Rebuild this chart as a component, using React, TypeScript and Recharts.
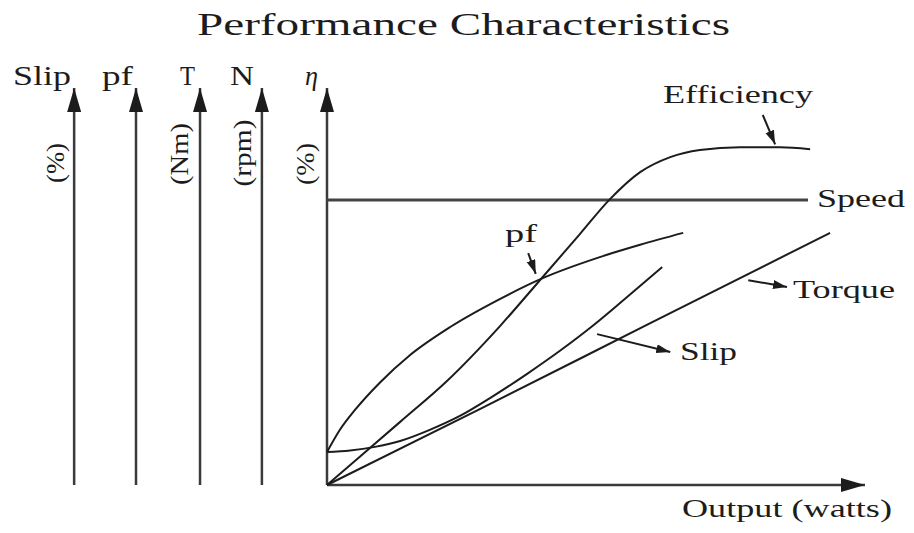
import React from 'react';
import { LineChart, Line, XAxis, YAxis, ReferenceLine } from 'recharts';

// output (% of full scale) vs curve value (% of axis height)
const efficiency = [
  [0, 0], [6.1, 7.1], [13.6, 15.9], [22.3, 26.2], [32.2, 40.1], [40.1, 52.4], [47.0, 63.2],
  [52.6, 72.0], [58.2, 78.8], [63.8, 82.6], [69.3, 84.4], [76.8, 85.1], [84.2, 85.1], [89.8, 84.6],
];
const speed = [[0, 71.8], [89.4, 71.8]];
const powerFactor = [
  [0, 8.3], [2.4, 13.9], [5.2, 18.9], [9.9, 25.9], [15.4, 32.7], [22.9, 39.8], [32.2, 46.9],
  [40.1, 52.1], [50.7, 57.4], [58.2, 60.5], [66.2, 63.5],
];
const slip = [
  [0, 8.3], [4.3, 8.7], [8.9, 9.6], [13.6, 11.1], [19.1, 13.9], [24.7, 17.4], [30.3, 21.9],
  [37.2, 28.0], [43.3, 33.8], [49.4, 40.1], [55.4, 46.9], [62.3, 54.9],
];
const torque = [[0, 0], [28.4, 19.1], [60, 40.7], [93.5, 63.5]];

// extra vertical axes on the left, in output units (negative = left of origin)
const sideAxisNames = ['Slip', 'pf', 'T', 'N'];
const sideAxisUnits = ['(%)', '', '(Nm)', '(rpm)'];
const sideAxisAt = [-47.0, -35.5, -23.6, -12.1];

// pointer arrows: [x1, y1, x2, y2] in data units
const pointers = [
  [81.0, 93.2, 83.3, 85.8], // Efficiency
  [37.4, 58.4, 38.8, 53.2], // pf
  [78.3, 51.6, 85.5, 49.9], // Torque
  [50.2, 38.0, 63.8, 33.5], // Slip
];

const toPoints = (arr: number[][]) => arr.map(([x, y]) => ({ x, y }));

const INK = '#1c1c1c';
const AXIS = '#3a3a3a';
const SERIF = "'Liberation Serif', 'Times New Roman', serif";

function Label({ x, y, w, size, children, italic }: any) {
  return (
    <text
      x={x}
      y={y}
      fontFamily={SERIF}
      fontSize={size}
      fontStyle={italic ? 'italic' : 'normal'}
      fill={INK}
      textLength={w}
      lengthAdjust="spacingAndGlyphs"
    >
      {children}
    </text>
  );
}

function Unit({ cx, cy, w, children }: any) {
  return (
    <text
      x={cx}
      y={cy}
      transform={`rotate(-90 ${cx} ${cy})`}
      textAnchor="middle"
      dominantBaseline="central"
      fontFamily={SERIF}
      fontSize={26}
      fill={INK}
      textLength={w}
      lengthAdjust="spacingAndGlyphs"
    >
      {children}
    </text>
  );
}

export default function App() {
  const unitPos = [
    { cx: 55, cy: 163, w: 40 },
    null,
    { cx: 179, cy: 154, w: 62 },
    { cx: 242, cy: 153, w: 67 },
  ];
  return (
    <div style={{ position: 'absolute', left: 0, top: 0, width: 914, height: 533, background: '#fff' }}>
      <LineChart width={914} height={533} margin={{ top: 88, right: 49, bottom: 48, left: 327 }}>
        <defs>
          <marker id="axisHead" markerUnits="userSpaceOnUse" markerWidth={26} markerHeight={16} refX={24} refY={7} orient="auto">
            <path d="M0,0 L24,7 L0,14 z" fill={INK} />
          </marker>
          <marker id="pointHead" markerUnits="userSpaceOnUse" markerWidth={16} markerHeight={10} refX={14} refY={4.5} orient="auto">
            <path d="M0,0 L14,4.5 L0,9 z" fill={INK} />
          </marker>
        </defs>
        <XAxis type="number" dataKey="x" domain={[0, 100]} hide />
        <YAxis type="number" domain={[0, 100]} hide />

        {/* main axes: output along x, η up the side */}
        <ReferenceLine
          segment={[{ x: 0, y: 0 }, { x: 100, y: 0 }]}
          ifOverflow="visible"
          stroke={AXIS}
          strokeWidth={2.5}
          markerEnd="url(#axisHead)"
        />
        <ReferenceLine
          segment={[{ x: 0, y: 0 }, { x: 0, y: 100 }]}
          ifOverflow="visible"
          stroke={AXIS}
          strokeWidth={2.5}
          markerEnd="url(#axisHead)"
        />
        {sideAxisAt.map((ax, i) => (
          <ReferenceLine
            key={'side-' + i}
            segment={[{ x: ax, y: 0 }, { x: ax, y: 100 }]}
            ifOverflow="visible"
            stroke={AXIS}
            strokeWidth={2.5}
            markerEnd="url(#axisHead)"
          />
        ))}
        {pointers.map(([x1, y1, x2, y2], i) => (
          <ReferenceLine
            key={'ptr-' + i}
            segment={[{ x: x1, y: y1 }, { x: x2, y: y2 }]}
            ifOverflow="visible"
            stroke={INK}
            strokeWidth={2}
            markerEnd="url(#pointHead)"
          />
        ))}
        <Line data={toPoints(speed)} dataKey="y" type="linear" stroke="#444" strokeWidth={3} dot={false} isAnimationActive={false} />
        <Line data={toPoints(torque)} dataKey="y" type="monotone" stroke={INK} strokeWidth={2} dot={false} isAnimationActive={false} />
        <Line data={toPoints(slip)} dataKey="y" type="monotone" stroke={INK} strokeWidth={2} dot={false} isAnimationActive={false} />
        <Line data={toPoints(powerFactor)} dataKey="y" type="monotone" stroke={INK} strokeWidth={2} dot={false} isAnimationActive={false} />
        <Line data={toPoints(efficiency)} dataKey="y" type="monotone" stroke={INK} strokeWidth={2} dot={false} isAnimationActive={false} />

        <Label x={197} y={35} w={533} size={32}>Performance Characteristics</Label>

        <Label x={13} y={85} w={58} size={27}>{sideAxisNames[0]}</Label>
        <Label x={102} y={85} w={31} size={27}>{sideAxisNames[1]}</Label>
        <Label x={180} y={85} w={15} size={27}>{sideAxisNames[2]}</Label>
        <Label x={230} y={85} w={24} size={27}>{sideAxisNames[3]}</Label>
        <Label x={305} y={85} w={13} size={27} italic>η</Label>

        {unitPos.map((p, i) => (p ? <Unit key={'u' + i} cx={p.cx} cy={p.cy} w={p.w}>{sideAxisUnits[i]}</Unit> : null))}
        <Unit cx={305} cy={164} w={42}>(%)</Unit>

        <Label x={663} y={103} w={150} size={25}>Efficiency</Label>
        <Label x={817} y={207} w={88} size={25}>Speed</Label>
        <Label x={505} y={242} w={32} size={25}>pf</Label>
        <Label x={793} y={298} w={102} size={25}>Torque</Label>
        <Label x={680} y={360} w={57} size={25}>Slip</Label>
        <Label x={682} y={517} w={210} size={25}>Output (watts)</Label>
      </LineChart>
    </div>
  );
}
